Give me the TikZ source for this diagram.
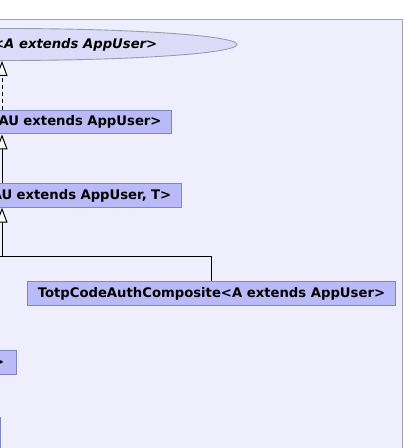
\documentclass[tikz,border=0pt]{standalone}
\usepackage{fontspec}
\setmainfont{DejaVu Sans}
\usetikzlibrary{arrows.meta,shapes.geometric}
\definecolor{bgc}{HTML}{EEEEFC}
\definecolor{boxfill}{HTML}{BABAF9}
\definecolor{boxdraw}{HTML}{8484C4}
\definecolor{ellfill}{HTML}{DCDCF8}
\definecolor{ellrule}{HTML}{9A9AB4}
\definecolor{framec}{HTML}{A0A0A8}
\tikzset{
  classbox/.style={draw=boxdraw, fill=boxfill, line width=0.9bp, inner ysep=0pt, inner xsep=10bp,
    minimum height=23.5bp, font=\fontsize{13.2bp}{15bp}\selectfont\bfseries},
  ifaceell/.style={ellipse, draw=ellrule, fill=ellfill, line width=0.9bp, inner sep=0pt,
    minimum width=466bp, minimum height=32bp},
  ifacetext/.style={inner sep=0pt, font=\fontsize{13.2bp}{15bp}\selectfont\bfseries\itshape},
  inh/.style={line width=1bp, -{Triangle[length=15bp,width=11bp,fill=white,line width=1bp]}},
  conn/.style={line width=1bp},
  realize/.style={inh, dash pattern=on 4bp off 3bp}
}
\begin{document}
\begin{tikzpicture}[x=1bp,y=-1bp]
\useasboundingbox (0,0) rectangle (405,448);
\clip (0,0) rectangle (405,448);
\fill[white] (0,0) rectangle (405,448);
\filldraw[fill=bgc, draw=framec, line width=1bp] (-20,19.5) rectangle (402.5,470);
% interface ellipse
\node[ifaceell] (ell) at (4,44.5) {};
\node[ifacetext, anchor=east] (ellt) at (157.5,44.5) {<A extends AppUser>};
% classes
\node[classbox, anchor=north east, text width=230bp, align=right] (b2) at (172,110) {AU extends AppUser>};
\node[classbox, anchor=north east, text width=230bp, align=right] (b3) at (181.7,183.3) {AU extends AppUser, T>};
\node[classbox, anchor=north west, minimum width=367bp, minimum height=24.3bp] (b4) at (27.3,281) {TotpCodeAuthComposite<A extends AppUser>};
\node[classbox, anchor=north east, text width=100bp, align=right, inner xsep=12bp] (b5) at (16.7,350) {>};
\node[classbox, anchor=north east, text width=100bp, minimum height=60bp] (b6) at (0.7,417) {};
% connectors
\coordinate (cx) at (2,0);
\coordinate (j) at (2,256.7);
\coordinate (jl) at (-10,256.7);
\draw[realize] (b2.north -| cx) -- (ell.south -| cx);
\draw[inh] (b3.north -| cx) -- (b2.south -| cx);
\draw[conn] (j) -- (jl);
\draw[inh] (b4.north) |- (j) -- (b3.south -| cx);
\end{tikzpicture}
\end{document}
